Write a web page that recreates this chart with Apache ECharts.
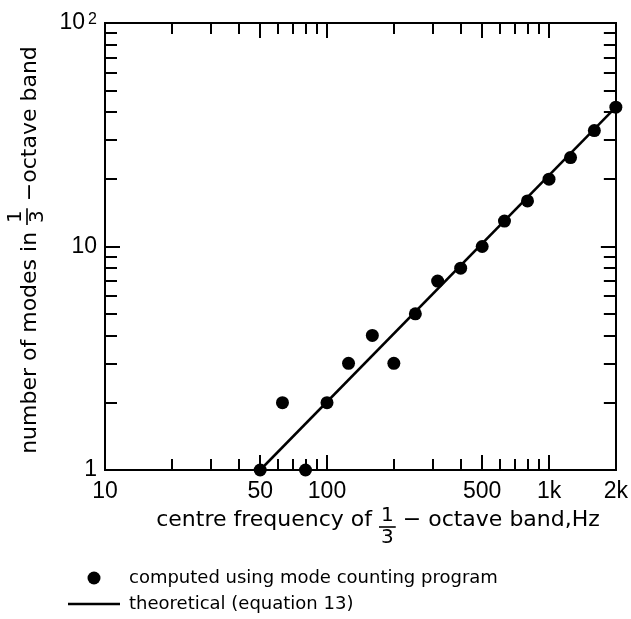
<!DOCTYPE html>
<html>
<head>
<meta charset="utf-8">
<script src="https://cdn.jsdelivr.net/npm/echarts@6/dist/echarts.min.js"></script>
<style>
  html, body { margin: 0; background: #fff; }
  #chart { width: 631px; height: 619px; }
</style>
</head>
<body>
<div id="chart"></div>
<script>
// 1/3-octave band centre frequencies and counted modes
const freqs = [50, 63, 80, 100, 125, 160, 200, 250, 315, 400, 500, 630, 800, 1000, 1250, 1600, 2000];
const modes = [1, 2, 1, 2, 3, 4, 3, 5, 7, 8, 10, 13, 16, 20, 25, 33, 42];
// theoretical line (equation 13), end points
const theoryFreq = [50, 2000];
const theoryModes = [1, 42];

const xLabelTicks = [10, 50, 100, 500, 1000, 2000];
const xMajorTicks = [50, 100, 500, 1000];
const xMinorTicks = [20, 30, 40, 60, 70, 80, 90, 200, 300, 400, 600, 700, 800, 900];
const yLabelTicks = [1, 10, 100];
const yMajorTicks = [10];
const yMinorTicks = [2, 3, 4, 5, 6, 7, 8, 9, 20, 30, 40, 50, 60, 70, 80, 90];

const TEXT_FONT = 'DejaVu Sans';
const NUM_FONT = 'Liberation Sans';

const chart = echarts.init(document.getElementById('chart'));

// canvas to measure title pieces
const meas = document.createElement('canvas').getContext('2d');
function textW(s, font) {
  meas.font = font;
  return meas.measureText(s).width;
}

// title with a stacked 1/3 fraction in the middle, centred on (0,0)
function fracTitle(before, after, size, barOffset) {
  const font = size + 'px "' + TEXT_FONT + '"';
  const fracFont = Math.round(size * 0.9) + 'px "' + TEXT_FONT + '"';
  const gap = 7;
  const w1 = textW(before, font), w2 = textW(after, font);
  const fw = textW('3', fracFont) + 4;
  const W = w1 + gap + fw + gap + w2;
  let x = -W / 2;
  const kids = [];
  kids.push({ type: 'text', x: x, y: 0, style: { text: before, font: font, fill: '#000', align: 'left', verticalAlign: 'middle' } });
  x += w1 + gap;
  kids.push({ type: 'line', shape: { x1: x, y1: barOffset, x2: x + fw, y2: barOffset }, style: { stroke: '#000', lineWidth: 1.6 } });
  kids.push({ type: 'text', x: x + fw / 2, y: barOffset - 1, style: { text: '1', font: fracFont, fill: '#000', align: 'center', verticalAlign: 'bottom' } });
  kids.push({ type: 'text', x: x + fw / 2, y: barOffset + 1, style: { text: '3', font: fracFont, fill: '#000', align: 'center', verticalAlign: 'top' } });
  x += fw + gap;
  kids.push({ type: 'text', x: x, y: 0, style: { text: after, font: font, fill: '#000', align: 'left', verticalAlign: 'middle' } });
  return kids;
}

const numLabel = {
  color: '#000',
  fontFamily: NUM_FONT,
  fontSize: 23,
  hideOverlap: false
};

function xAxis(pos, ticks, len, labels) {
  return {
    type: 'log',
    min: 10,
    max: 2000,
    position: pos,
    axisLine: { show: true, onZero: false, lineStyle: { color: '#000', width: 2 } },
    axisTick: { show: true, inside: true, length: len, customValues: ticks, lineStyle: { color: '#000', width: 2 } },
    axisLabel: labels ? Object.assign({
      margin: 10,
      customValues: xLabelTicks,
      formatter: v => v >= 1000 ? (v / 1000) + 'k' : String(v)
    }, numLabel) : { show: false },
    splitLine: { show: false },
    minorTick: { show: false }
  };
}

function yAxis(pos, ticks, len, labels) {
  return {
    type: 'log',
    min: 1,
    max: 100,
    position: pos,
    axisLine: { show: true, onZero: false, lineStyle: { color: '#000', width: 2 } },
    axisTick: { show: true, inside: true, length: len, customValues: ticks, lineStyle: { color: '#000', width: 2 } },
    axisLabel: labels ? Object.assign({
      margin: 8,
      customValues: yLabelTicks,
      formatter: v => v === 100 ? '10{sup|2}' : String(v),
      rich: { sup: { fontFamily: NUM_FONT, fontSize: 16, verticalAlign: 'top', padding: [0, 0, 6, 3] } }
    }, numLabel) : { show: false },
    splitLine: { show: false },
    minorTick: { show: false }
  };
}

const option = {
  backgroundColor: '#fff',
  animation: false,
  grid: { left: 105, right: 14, top: 23, bottom: 149, containLabel: false },
  xAxis: [
    xAxis('bottom', xMajorTicks, 15, true),
    xAxis('bottom', xMinorTicks, 11, false),
    xAxis('top', xMajorTicks, 15, false),
    xAxis('top', xMinorTicks, 11, false)
  ],
  yAxis: [
    yAxis('left', yMajorTicks, 15, true),
    yAxis('left', yMinorTicks, 12, false),
    yAxis('right', yMajorTicks, 15, false),
    yAxis('right', yMinorTicks, 12, false)
  ],
  legend: {
    orient: 'vertical',
    left: 68,
    top: 567,
    padding: 0,
    itemWidth: 52,
    itemHeight: 13,
    itemGap: 4,
    textStyle: { color: '#000', fontFamily: TEXT_FONT, fontSize: 18, lineHeight: 22, padding: [0, 0, 0, 4] },
    data: [
      { name: 'computed using mode counting program', icon: 'circle', itemStyle: { color: '#000', opacity: 1 } },
      { name: 'theoretical (equation 13)', icon: 'path://M0,0H52V2.6H0Z', itemStyle: { color: '#000', opacity: 1 } }
    ]
  },
  series: [
    {
      name: 'computed using mode counting program',
      type: 'scatter',
      data: freqs.map((f, i) => [f, modes[i]]),
      symbol: 'circle',
      symbolSize: 13,
      itemStyle: { color: '#000', opacity: 1 },
      z: 3
    },
    {
      name: 'theoretical (equation 13)',
      type: 'line',
      data: theoryFreq.map((f, i) => [f, theoryModes[i]]),
      symbol: 'none',
      lineStyle: { color: '#000', width: 2.5 },
      itemStyle: { color: '#000' },
      z: 2
    }
  ],
  graphic: [
    {
      type: 'group',
      x: 378,
      y: 520,
      children: fracTitle('centre frequency of', '\u2212 octave band,Hz', 22, 7)
    },
    {
      type: 'group',
      x: 30,
      y: 250,
      rotation: Math.PI / 2,
      children: fracTitle('number of modes in', '\u2212octave band', 22, -3)
    }
  ]
};

chart.setOption(option);
</script>
</body>
</html>
